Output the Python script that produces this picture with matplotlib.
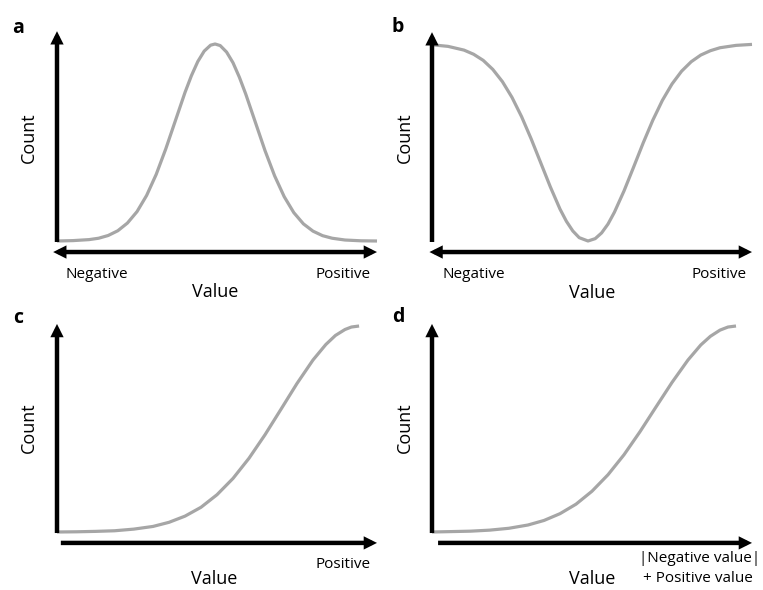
import matplotlib.pyplot as plt

# curve samples (x: 0..1 along the axis, y: 0..1 of the axis height)
a_x = [0.0, 0.05, 0.1, 0.13, 0.16, 0.19, 0.22, 0.25, 0.28, 0.31, 0.34, 0.37, 0.40, 0.42,
       0.44, 0.46, 0.48, 0.494, 0.51, 0.53, 0.55, 0.57, 0.59, 0.62, 0.65, 0.68, 0.71, 0.74,
       0.77, 0.80, 0.83, 0.86, 0.9, 0.95, 1.0]
a_y = [0.0, 0.002, 0.007, 0.014, 0.028, 0.052, 0.091, 0.149, 0.231, 0.338, 0.468, 0.611,
       0.754, 0.839, 0.911, 0.964, 0.994, 1.0, 0.992, 0.959, 0.905, 0.831, 0.745, 0.602,
       0.459, 0.331, 0.225, 0.144, 0.087, 0.050, 0.027, 0.014, 0.005, 0.001, 0.0]

b_x = [0.0, 0.05, 0.1, 0.13, 0.16, 0.19, 0.22, 0.25, 0.28, 0.31, 0.34, 0.37, 0.40, 0.42,
       0.44, 0.46, 0.4875, 0.51, 0.53, 0.55, 0.57, 0.6, 0.63, 0.66, 0.69, 0.72, 0.75, 0.78,
       0.81, 0.84, 0.87, 0.9, 0.95, 1.0]
b_y = [0.996, 0.988, 0.969, 0.948, 0.917, 0.871, 0.809, 0.729, 0.631, 0.518, 0.396, 0.274,
       0.162, 0.100, 0.051, 0.017, 0.0, 0.012, 0.041, 0.086, 0.146, 0.254, 0.375, 0.498,
       0.613, 0.714, 0.797, 0.862, 0.910, 0.944, 0.966, 0.981, 0.993, 0.998]

c_x = [0.0, 0.06, 0.12, 0.18, 0.24, 0.3, 0.35, 0.4, 0.45, 0.5, 0.55, 0.6, 0.65, 0.7,
       0.75, 0.8, 0.84, 0.87, 0.9, 0.92, 0.944]
c_y = [0.0, 0.001, 0.003, 0.006, 0.014, 0.027, 0.047, 0.077, 0.120, 0.181, 0.260, 0.358,
       0.472, 0.596, 0.721, 0.835, 0.910, 0.954, 0.983, 0.995, 1.0]

d_x = [0.0, 0.06, 0.12, 0.18, 0.24, 0.3, 0.35, 0.4, 0.45, 0.5, 0.55, 0.6, 0.65, 0.7,
       0.75, 0.8, 0.84, 0.87, 0.9, 0.925, 0.95]
d_y = [0.0, 0.002, 0.004, 0.009, 0.018, 0.034, 0.056, 0.089, 0.135, 0.198, 0.278, 0.375,
       0.487, 0.607, 0.726, 0.835, 0.908, 0.950, 0.980, 0.995, 1.0]

panel_letters = ["a", "b", "c", "d"]

W, H = 763, 590
plt.rcParams['font.family'] = ['Open Sans', 'DejaVu Sans']
fig = plt.figure(figsize=(W / 100, H / 100), dpi=100)

CURVE = "#a6a6a6"


def px_axes(left, top, right, bottom):
    return fig.add_axes([left / W, 1 - bottom / H, (right - left) / W, (bottom - top) / H])


def arrow(ax, start, end, style):
    ax.annotate("", xy=end, xytext=start, xycoords="axes fraction", textcoords="axes fraction",
                arrowprops=dict(arrowstyle=style, color="black", lw=3.2, mutation_scale=11,
                                shrinkA=0, shrinkB=0, joinstyle="miter", capstyle="butt"),
                annotation_clip=False)


def ftext(x, y, s, **kw):
    fig.text(x / W, 1 - y / H, s, ha="center", va="center", **kw)


panels = [
    (px_axes(57, 44, 377, 241), a_x, a_y),
    (px_axes(432, 44, 752, 241), b_x, b_y),
    (px_axes(57, 326, 377, 532), c_x, c_y),
    (px_axes(432, 326, 752, 532), d_x, d_y),
]

for ax, xs, ys in panels:
    ax.plot(xs, ys, color=CURVE, lw=2.3, solid_capstyle="butt", solid_joinstyle="round",
            clip_on=False)
    ax.set_xlim(0, 1)
    ax.set_ylim(0, 1)
    ax.axis("off")

# axes arrows
ax_a, ax_b, ax_c, ax_d = [p[0] for p in panels]
arrow(ax_a, (0, -0.005), (0, 1.065), "-|>")
arrow(ax_a, (-0.012, -0.056), (1.0, -0.056), "<|-|>")
arrow(ax_b, (0, -0.005), (0, 1.06), "-|>")
arrow(ax_b, (-0.008, -0.056), (1.0, -0.056), "<|-|>")
arrow(ax_c, (0, -0.005), (0, 1.01), "-|>")
arrow(ax_c, (0.012, -0.053), (1.0, -0.053), "-|>")
arrow(ax_d, (0, -0.005), (0, 1.01), "-|>")
arrow(ax_d, (0.019, -0.053), (1.0, -0.053), "-|>")

# labels
lab = dict(fontsize=11, color="black")
big = dict(fontsize=13, color="black")
ftext(97, 275, "Negative", **lab)
ftext(343, 275, "Positive", **lab)
ftext(215, 292, "Value", **big)
ftext(29, 138, "Count", rotation=90, **big)

ftext(474, 275, "Negative", **lab)
ftext(719, 275, "Positive", **lab)
ftext(592, 293, "Value", **big)
ftext(405, 138, "Count", rotation=90, **big)

ftext(343, 565, "Positive", **lab)
ftext(214, 579, "Value", **big)
ftext(29, 428, "Count", rotation=90, **big)

ftext(700, 558, "|Negative value|", **lab)
ftext(698, 578, "+ Positive value", **lab)
ftext(592, 579, "Value", **big)
ftext(405, 428, "Count", rotation=90, **big)

for (x, y), s in zip([(18, 28), (398, 27), (18, 318), (398, 317)], panel_letters):
    ftext(x, y, s, fontsize=14, fontweight="bold")

fig.savefig("out.png", dpi=100)
